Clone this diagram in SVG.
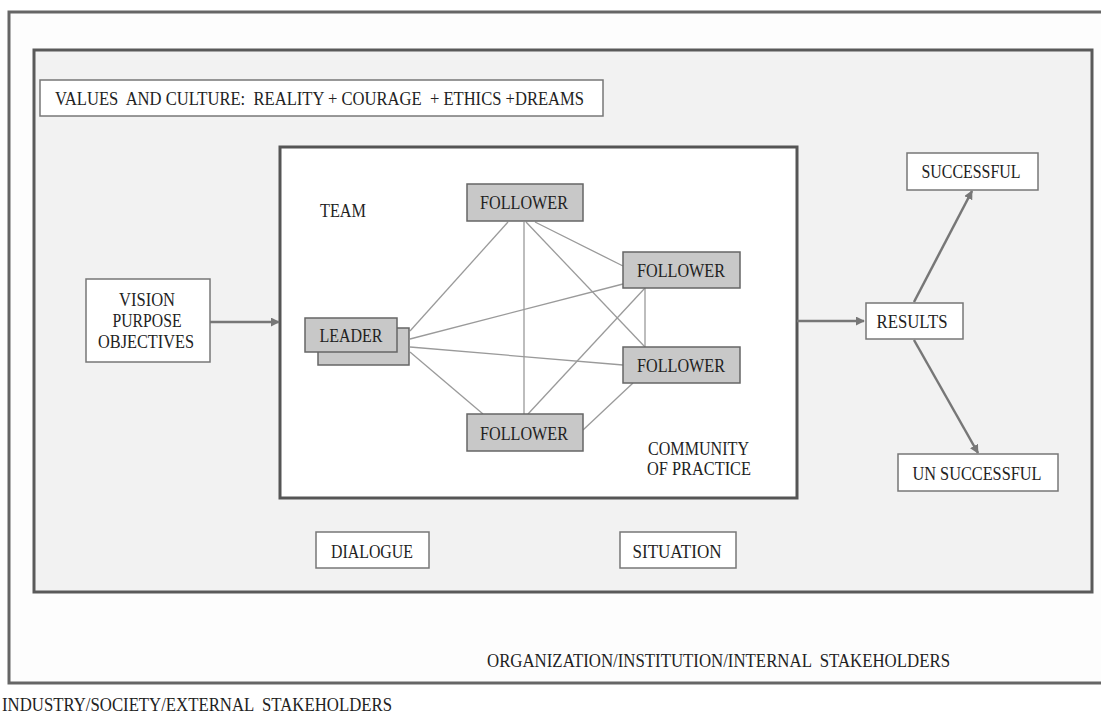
<svg xmlns="http://www.w3.org/2000/svg" width="1101" height="717" viewBox="0 0 1101 717" font-family="'Liberation Serif', 'DejaVu Serif', serif">
<defs>
<marker id="ah" viewBox="0 0 10 10" refX="9" refY="5" markerWidth="9" markerHeight="9" markerUnits="userSpaceOnUse" orient="auto">
<path d="M0,0 L10,5 L0,10 Z" fill="#777"/>
</marker>
</defs>
<style>
text{font-family:'Liberation Serif','DejaVu Serif',serif;font-size:19px;fill:#222;white-space:pre}
.c{text-anchor:middle}
.wb{fill:#fff;stroke:#777;stroke-width:1.5}
.gb{fill:#c8c8c8;stroke:#666;stroke-width:1.5}
.ln{stroke:#9a9a9a;stroke-width:1.3;fill:none}
.ar{stroke:#777;stroke-width:2.5;fill:none;marker-end:url(#ah)}
</style>
<rect width="1101" height="717" fill="#fff"/>
<g id="outer">
<path d="M1101,12 H9 V683 H1101" fill="#fdfdfd" stroke="#666" stroke-width="3"/>
<text x="2" y="711" textLength="390" lengthAdjust="spacingAndGlyphs">INDUSTRY/SOCIETY/EXTERNAL  STAKEHOLDERS</text>
</g>
<g id="organization">
<rect x="34" y="50" width="1058" height="542" fill="#f2f2f2" stroke="#5a5a5a" stroke-width="3"/>
<text x="487" y="667" textLength="463" lengthAdjust="spacingAndGlyphs">ORGANIZATION/INSTITUTION/INTERNAL  STAKEHOLDERS</text>
</g>
<g id="values">
<rect class="wb" x="40" y="80" width="563" height="36"/>
<text x="55" y="105" textLength="529" lengthAdjust="spacingAndGlyphs">VALUES  AND CULTURE:  REALITY + COURAGE  + ETHICS +DREAMS</text>
</g>
<g id="community">
<rect x="280" y="147" width="517" height="351" fill="#fff" stroke="#555" stroke-width="3"/>
<text x="320" y="217" textLength="46" lengthAdjust="spacingAndGlyphs">TEAM</text>
<text x="648" y="455" textLength="101" lengthAdjust="spacingAndGlyphs">COMMUNITY</text>
<text x="647" y="475" textLength="104" lengthAdjust="spacingAndGlyphs">OF PRACTICE</text>
</g>
<g id="connectors">
<line class="ln" x1="410" y1="331" x2="508" y2="222"/>
<line class="ln" x1="410" y1="339" x2="623" y2="284"/>
<line class="ln" x1="410" y1="347" x2="623" y2="365"/>
<line class="ln" x1="410" y1="352" x2="483" y2="414"/>
<line class="ln" x1="524" y1="222" x2="524" y2="414"/>
<line class="ln" x1="535" y1="222" x2="623" y2="266"/>
<line class="ln" x1="526" y1="222" x2="645" y2="347"/>
<line class="ln" x1="645" y1="288" x2="528" y2="414"/>
<line class="ln" x1="645" y1="288" x2="645" y2="347"/>
<line class="ln" x1="633" y1="383" x2="583" y2="430"/>
<line class="ar" x1="210" y1="322" x2="279" y2="322"/>
<line class="ar" x1="797" y1="321" x2="864" y2="321"/>
<line class="ar" x1="914" y1="302" x2="972" y2="191"/>
<line class="ar" x1="914" y1="340" x2="978" y2="453"/>
</g>
<g id="leader">
<rect class="gb" x="318" y="328" width="91" height="37"/>
<rect class="gb" x="305" y="318" width="92" height="34"/>
<text class="c" x="351" y="342" textLength="63" lengthAdjust="spacingAndGlyphs">LEADER</text>
</g>
<g id="follower-top">
<rect class="gb" x="467" y="184" width="116" height="37"/>
<text class="c" x="524" y="209" textLength="88" lengthAdjust="spacingAndGlyphs">FOLLOWER</text>
</g>
<g id="follower-right-top">
<rect class="gb" x="623" y="252" width="117" height="36"/>
<text class="c" x="681" y="277" textLength="88" lengthAdjust="spacingAndGlyphs">FOLLOWER</text>
</g>
<g id="follower-right-bottom">
<rect class="gb" x="623" y="347" width="117" height="36"/>
<text class="c" x="681" y="372" textLength="88" lengthAdjust="spacingAndGlyphs">FOLLOWER</text>
</g>
<g id="follower-bottom">
<rect class="gb" x="467" y="414" width="116" height="37"/>
<text class="c" x="524" y="440" textLength="88" lengthAdjust="spacingAndGlyphs">FOLLOWER</text>
</g>
<g id="vision">
<rect class="wb" x="86" y="279" width="124" height="83"/>
<text class="c" x="147" y="306" textLength="56" lengthAdjust="spacingAndGlyphs">VISION</text>
<text class="c" x="147" y="327" textLength="69" lengthAdjust="spacingAndGlyphs">PURPOSE</text>
<text class="c" x="146" y="348" textLength="96" lengthAdjust="spacingAndGlyphs">OBJECTIVES</text>
</g>
<g id="results">
<rect class="wb" x="866" y="303" width="97" height="36"/>
<text class="c" x="912" y="328" textLength="71" lengthAdjust="spacingAndGlyphs">RESULTS</text>
</g>
<g id="successful">
<rect class="wb" x="907" y="153" width="131" height="37"/>
<text class="c" x="971" y="178" textLength="99" lengthAdjust="spacingAndGlyphs">SUCCESSFUL</text>
</g>
<g id="unsuccessful">
<rect class="wb" x="898" y="454" width="160" height="37"/>
<text class="c" x="977" y="480" textLength="129" lengthAdjust="spacingAndGlyphs">UN SUCCESSFUL</text>
</g>
<g id="dialogue">
<rect class="wb" x="316" y="532" width="113" height="36"/>
<text class="c" x="372" y="558" textLength="82" lengthAdjust="spacingAndGlyphs">DIALOGUE</text>
</g>
<g id="situation">
<rect class="wb" x="620" y="532" width="116" height="36"/>
<text class="c" x="677" y="558" textLength="89" lengthAdjust="spacingAndGlyphs">SITUATION</text>
</g>
</svg>
